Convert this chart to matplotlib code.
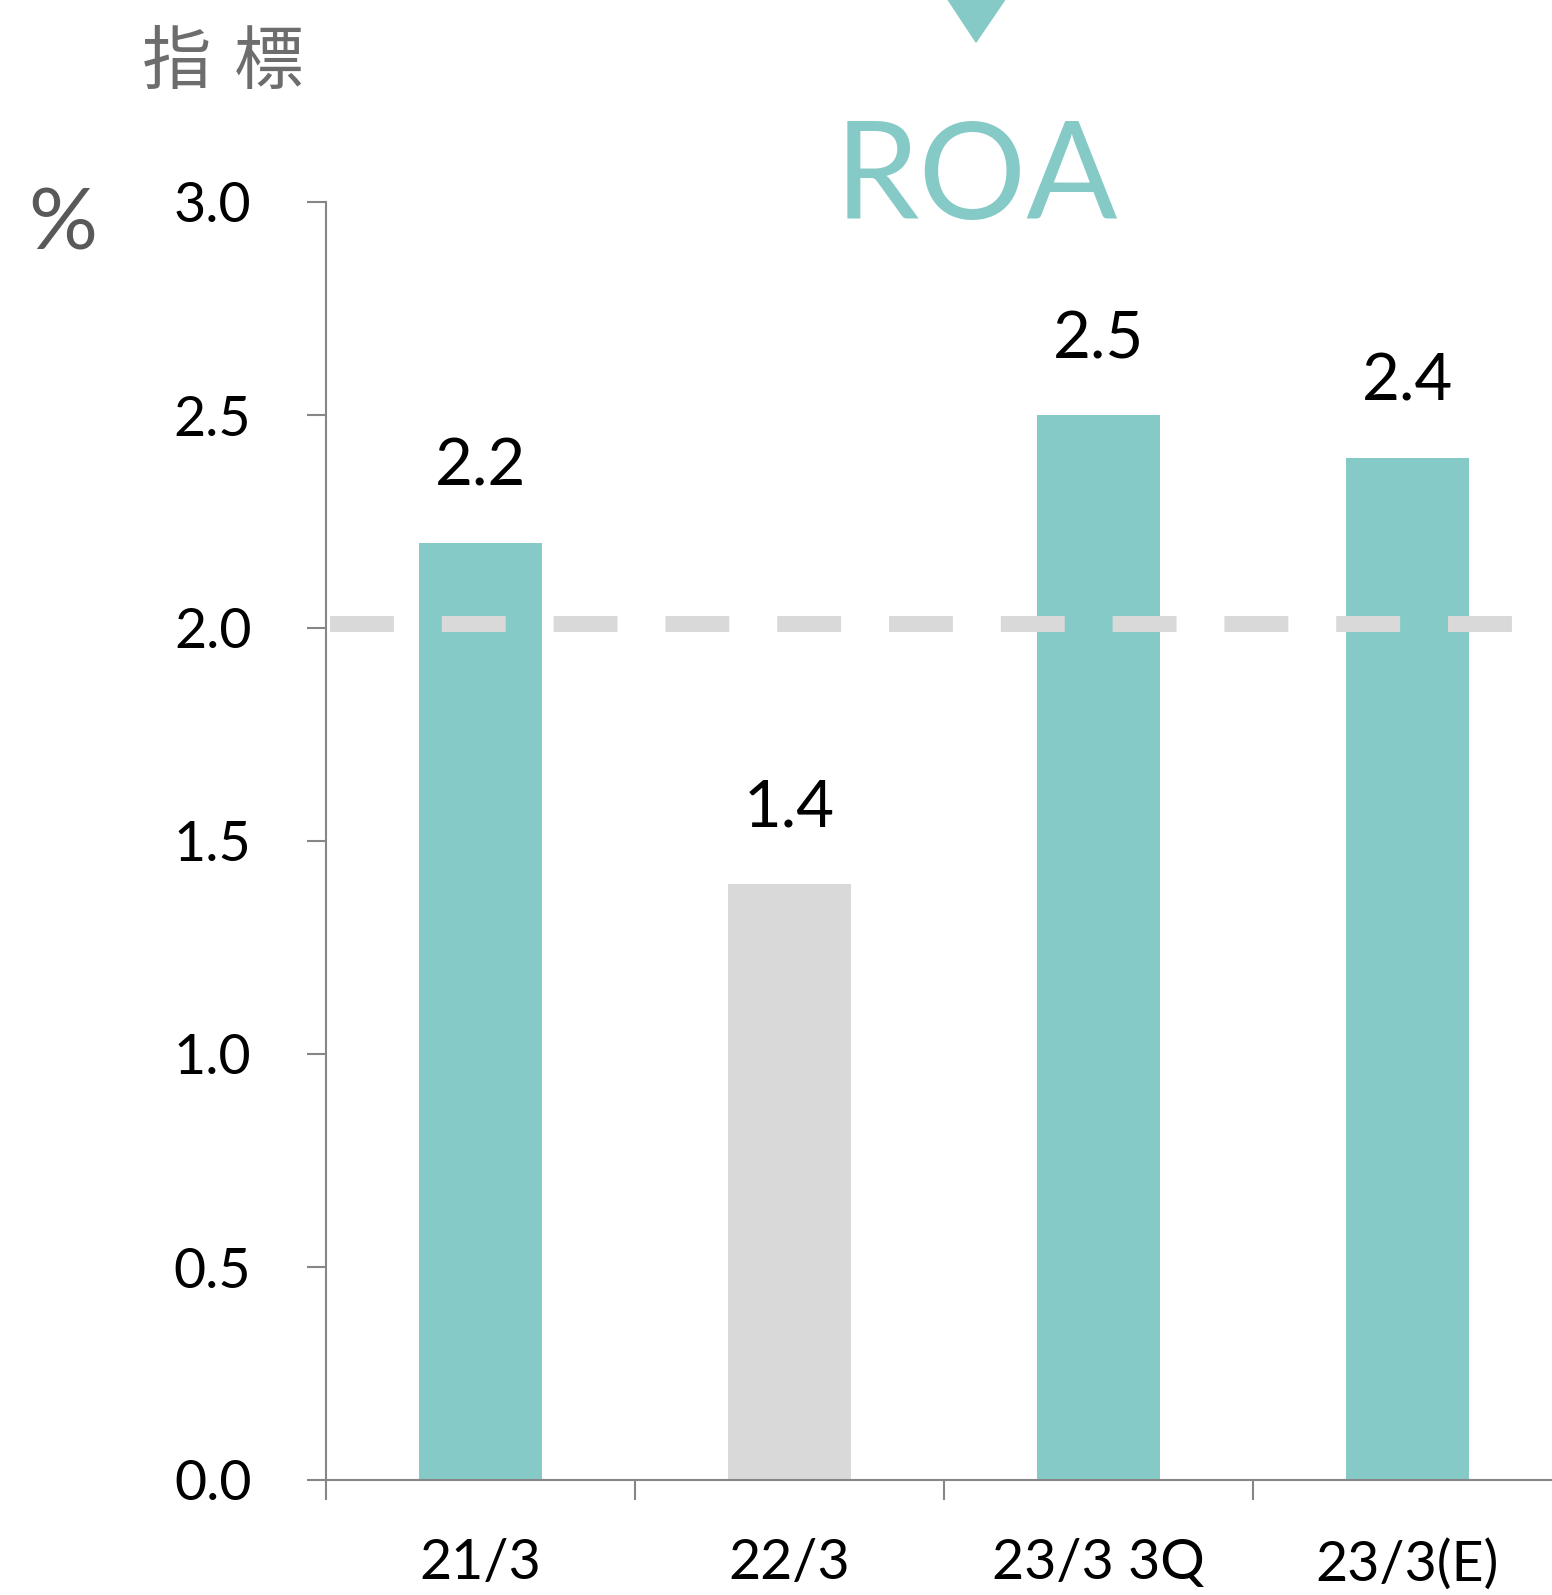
import matplotlib
matplotlib.use("Agg")
import matplotlib.pyplot as plt
from matplotlib.patches import Polygon

plt.rcParams['font.family'] = ['Lato', 'Noto Sans CJK JP', 'DejaVu Sans']

# data
categories = ["21/3", "22/3", "23/3 3Q", "23/3(E)"]
roa = [2.2, 1.4, 2.5, 2.4]
bar_colors = ["#85cac6", "#d9d9d9", "#85cac6", "#85cac6"]
target = 2.01
yticks = [0.0, 0.5, 1.0, 1.5, 2.0, 2.5, 3.0]

W, H = 1552, 1595
fig = plt.figure(figsize=(W / 100, H / 100), dpi=100)

def fx(px):
    return px / W

def fy(py):
    return 1 - py / H

# axes: left spine at x=326, y=0 at 1480, y=3 at 202, runs off right edge
ax = fig.add_axes([fx(326), fy(1480), fx(W - 326), (1480 - 202) / H])
xs = list(range(len(categories)))
ax.bar(xs, roa, width=0.4, color=bar_colors, zorder=2)

# target line (dashed)
ax.axhline(target, xmin=0.003, xmax=0.969, color="#d9d9d9", lw=11.5,
           linestyle=(0, (4.0, 3.0)), dash_capstyle="butt", zorder=3)

for x, v in zip(xs, roa):
    ax.annotate(f"{v:.1f}", (x, v), xytext=(0, 41), textcoords="offset points",
                ha="center", va="baseline", fontsize=47, color="black")

ax.set_xlim(-0.5, 3.468)
ax.set_ylim(0, 3.0)
ax.set_yticks(yticks)
ax.set_yticklabels([f"{t:.1f}" for t in yticks])

ax.set_xticks([-0.5, 0.5, 1.5, 2.5])
ax.set_xticklabels([])
ax.set_xticks(xs, minor=True)
ax.set_xticklabels(categories, minor=True)

for s in ["top", "right"]:
    ax.spines[s].set_visible(False)
for s in ["left", "bottom"]:
    ax.spines[s].set_color("#868686")
    ax.spines[s].set_linewidth(1.5)

ax.tick_params(axis="y", which="major", direction="out", length=13.7, width=1.5,
               color="#868686", labelsize=40, pad=40, labelcolor="black")
ax.tick_params(axis="x", which="major", direction="out", length=14.5, width=1.5,
               color="#868686")
ax.tick_params(axis="x", which="minor", length=0, labelsize=40, pad=42,
               labelcolor="black")

# title and decorations
fig.text(fx(976), fy(219), "ROA", ha="center", va="baseline", fontsize=97,
         color="#85cac6")
tri = Polygon([[fx(945), fy(-5)], [fx(1008), fy(-5)], [fx(976), fy(42)]],
              closed=True, transform=fig.transFigure, color="#85cac6")
fig.patches.append(tri)

fig.text(fx(177), fy(63), "指", ha="center", va="center", fontsize=50,
         color="#6d6d6d", family=["Noto Sans CJK JP", "DejaVu Sans"])
fig.text(fx(269), fy(63), "標", ha="center", va="center", fontsize=50,
         color="#6d6d6d", family=["Noto Sans CJK JP", "DejaVu Sans"])
fig.text(fx(63), fy(226), "%", ha="center", va="center", fontsize=62,
         color="#595959")

fig.savefig("out.png", dpi=100)
